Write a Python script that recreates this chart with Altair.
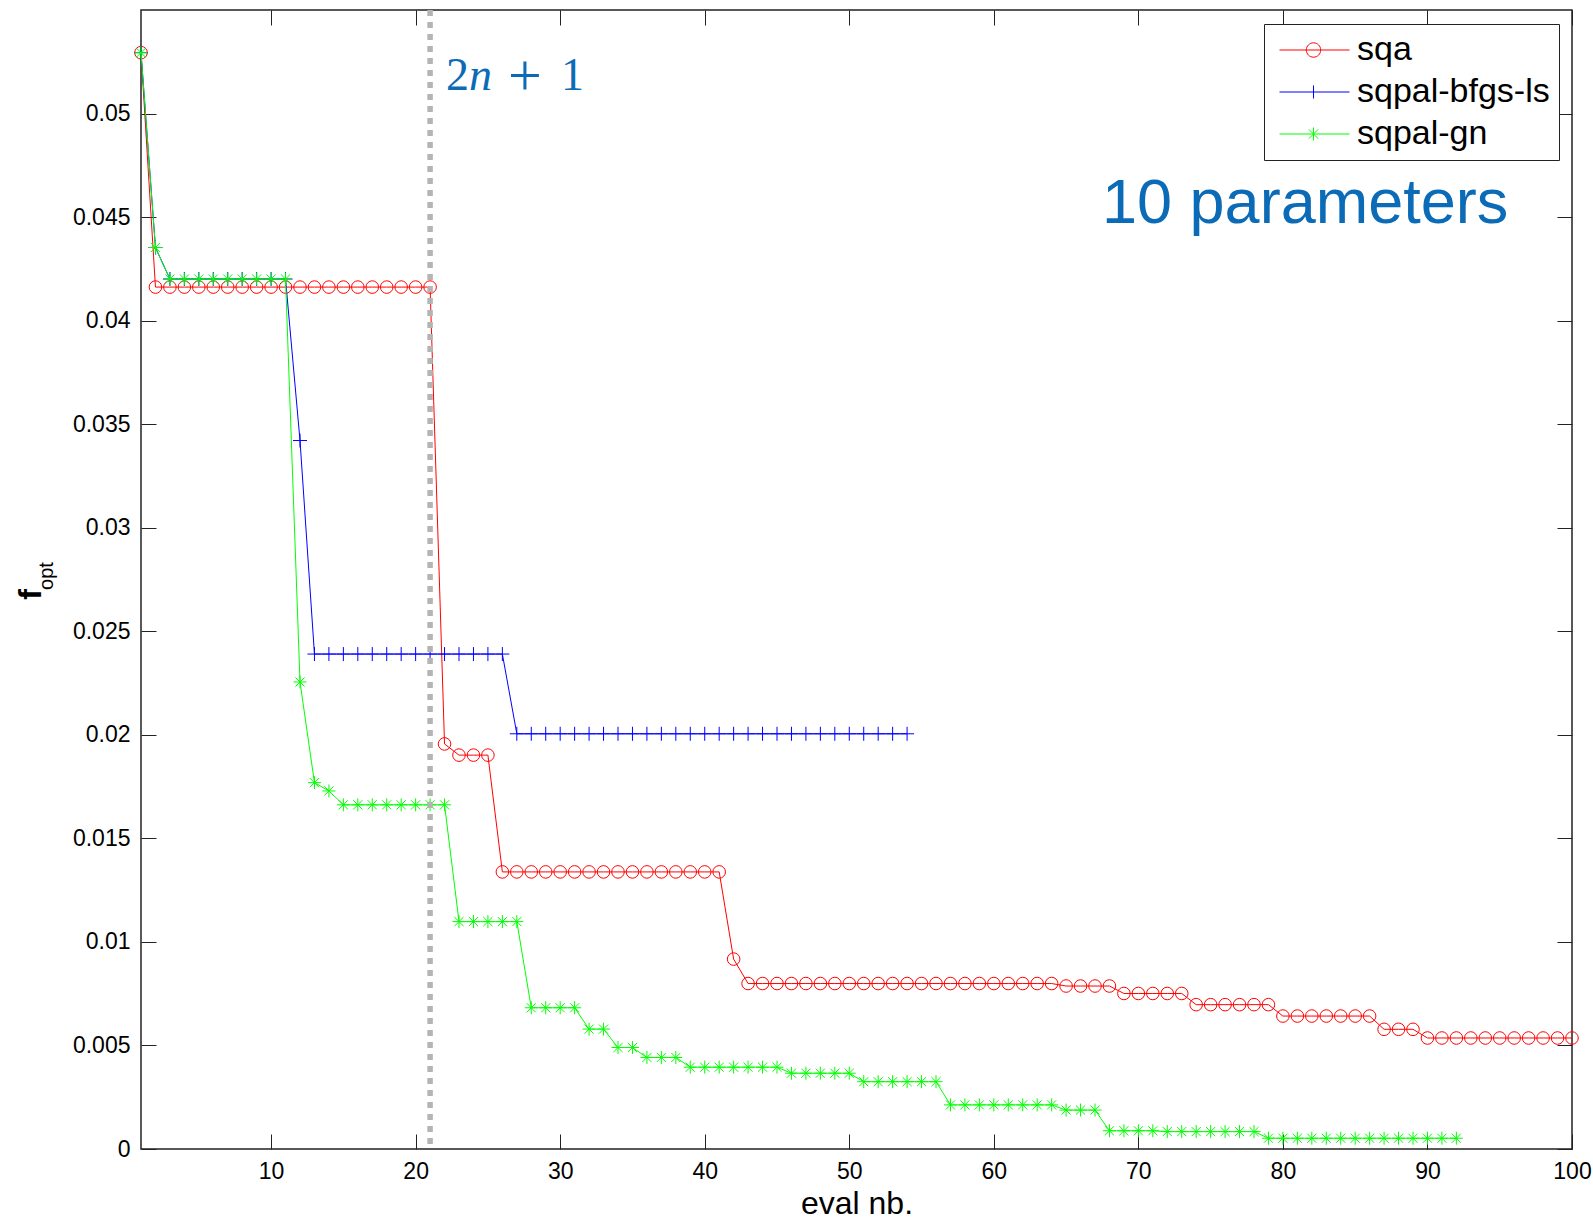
import altair as alt
import pandas as pd

# ---------------- data ----------------
series_names = ["sqa", "sqpal-bfgs-ls", "sqpal-gn"]
series_colors = ["#ff0000", "#0000ff", "#00ff00"]

sqa_eval = list(range(1, 101))
sqa_fopt = [
    0.05294,
    0.04162, 0.04162, 0.04162, 0.04162, 0.04162, 0.04162, 0.04162, 0.04162, 0.04162, 0.04162,
    0.04162, 0.04162, 0.04162, 0.04162, 0.04162, 0.04162, 0.04162, 0.04162, 0.04162, 0.04162,
    0.01956,
    0.01902, 0.01902, 0.01902,
    0.01338, 0.01338, 0.01338, 0.01338, 0.01338, 0.01338, 0.01338, 0.01338,
    0.01338, 0.01338, 0.01338, 0.01338, 0.01338, 0.01338, 0.01338, 0.01338,
    0.00917,
    0.00799, 0.00799, 0.00799, 0.00799, 0.00799, 0.00799, 0.00799, 0.00799, 0.00799, 0.00799, 0.00799,
    0.00799, 0.00799, 0.00799, 0.00799, 0.00799, 0.00799, 0.00799, 0.00799, 0.00799, 0.00799, 0.00799,
    0.00787, 0.00787, 0.00787, 0.00787,
    0.00751, 0.00751, 0.00751, 0.00751, 0.00751,
    0.00697, 0.00697, 0.00697, 0.00697, 0.00697, 0.00697,
    0.00642, 0.00642, 0.00642, 0.00642, 0.00642, 0.00642, 0.00642,
    0.00578, 0.00578, 0.00578,
    0.00536, 0.00536, 0.00536, 0.00536, 0.00536, 0.00536, 0.00536, 0.00536, 0.00536, 0.00536, 0.00536,
]

bfgs_eval = list(range(1, 55))
bfgs_fopt = [
    0.05294,
    0.04353,
    0.04201, 0.04201, 0.04201, 0.04201, 0.04201, 0.04201, 0.04201, 0.04201, 0.04201,
    0.03421,
    0.02390, 0.02390, 0.02390, 0.02390, 0.02390, 0.02390, 0.02390,
    0.02390, 0.02390, 0.02390, 0.02390, 0.02390, 0.02390, 0.02390,
    0.02005, 0.02005, 0.02005, 0.02005, 0.02005, 0.02005, 0.02005, 0.02005, 0.02005, 0.02005,
    0.02005, 0.02005, 0.02005, 0.02005, 0.02005, 0.02005, 0.02005, 0.02005, 0.02005, 0.02005,
    0.02005, 0.02005, 0.02005, 0.02005, 0.02005, 0.02005, 0.02005, 0.02005,
]

gn_eval = list(range(1, 93))
gn_fopt = [
    0.05294,
    0.04353,
    0.04201, 0.04201, 0.04201, 0.04201, 0.04201, 0.04201, 0.04201, 0.04201, 0.04201,
    0.02255,
    0.01769,
    0.01729,
    0.01662, 0.01662, 0.01662, 0.01662, 0.01662, 0.01662, 0.01662, 0.01662,
    0.01098, 0.01098, 0.01098, 0.01098, 0.01098,
    0.00682, 0.00682, 0.00682, 0.00682,
    0.00579, 0.00579,
    0.00490, 0.00490,
    0.00442, 0.00442, 0.00442,
    0.00395, 0.00395, 0.00395, 0.00395, 0.00395, 0.00395, 0.00395,
    0.00366, 0.00366, 0.00366, 0.00366, 0.00366,
    0.00325, 0.00325, 0.00325, 0.00325, 0.00325, 0.00325,
    0.00213, 0.00213, 0.00213, 0.00213, 0.00213, 0.00213, 0.00213, 0.00213,
    0.00188, 0.00188, 0.00188,
    0.00088, 0.00088, 0.00088, 0.00088,
    0.00084, 0.00084, 0.00084, 0.00084, 0.00084, 0.00084, 0.00084,
    0.00052, 0.00052, 0.00052, 0.00052, 0.00052, 0.00052, 0.00052,
    0.00052, 0.00052, 0.00052, 0.00052, 0.00052, 0.00052, 0.00052,
]

x_ticks = [10, 20, 30, 40, 50, 60, 70, 80, 90, 100]
y_ticks = [0, 0.005, 0.01, 0.015, 0.02, 0.025, 0.03, 0.035, 0.04, 0.045, 0.05]
vline_eval = [21]
x_title = "eval nb."
y_title_main = "f"
y_title_sub = "opt"
annotation_text = "10 parameters"

# ---------------- frames ----------------
df_sqa = pd.DataFrame({"eval": sqa_eval, "fopt": sqa_fopt, "series": series_names[0]})
df_bfgs = pd.DataFrame({"eval": bfgs_eval, "fopt": bfgs_fopt, "series": series_names[1]})
df_gn = pd.DataFrame({"eval": gn_eval, "fopt": gn_fopt, "series": series_names[2]})
df_vline = pd.DataFrame({"eval": vline_eval})
df_legend = pd.DataFrame({"series": series_names})
df_annot = pd.DataFrame({"label": [annotation_text]})
df_sub = pd.DataFrame({"label": [y_title_sub]})

FONT = "Liberation Sans"
BLUE_TXT = "#0b6bb6"
FRAME = "#222222"

xs = alt.Scale(domain=[1, 100], nice=False, zero=False)
ys = alt.Scale(domain=[0, 0.055], nice=False, zero=False)

ax_bottom = alt.Axis(orient="bottom", offset=-15, tickSize=15, values=x_ticks, domain=False,
                     grid=False, labelFontSize=23, labelPadding=11, labelFlush=False,
                     labelOverlap=False, format="d",
                     title=x_title, titleFontSize=32, titleFontWeight="normal",
                     titleBaseline="alphabetic", titleY=79)
ax_left = alt.Axis(orient="left", offset=-15, tickSize=15, values=y_ticks, domain=False,
                   grid=False, labelFontSize=23, labelPadding=11, labelFlush=False,
                   labelOverlap=False, format="~g",
                   title=y_title_main, titleFontSize=32, titleFontWeight="bold",
                   titleAngle=270, titleAlign="center", titleBaseline="alphabetic",
                   titleX=-116, titleY=584)
ax_top = alt.Axis(orient="top", offset=-15, tickSize=15, values=x_ticks, domain=False,
                  grid=False, labels=False, title=None)
ax_right = alt.Axis(orient="right", offset=-15, tickSize=15, values=y_ticks, domain=False,
                    grid=False, labels=False, title=None)


def xy(axx=None, axy=None):
    return dict(
        x=alt.X("eval:Q", scale=xs, axis=axx),
        y=alt.Y("fopt:Q", scale=ys, axis=axy),
    )


PLUS = "M-1,0L1,0M0,-1L0,1"
STAR = "M-1,0L1,0M0,-1L0,1M-0.7,-0.7L0.7,0.7M-0.7,0.7L0.7,-0.7"

red_line = alt.Chart(df_sqa).mark_line(color=series_colors[0], strokeWidth=1).encode(
    **xy(ax_bottom, ax_left))
red_pts = alt.Chart(df_sqa).mark_point(shape="circle", size=158, filled=False,
                                       color=series_colors[0], strokeWidth=1,
                                       opacity=1).encode(**xy())
blue_line = alt.Chart(df_bfgs).mark_line(color=series_colors[1], strokeWidth=1).encode(
    **xy(ax_top, ax_right))
blue_pts = alt.Chart(df_bfgs).mark_point(shape=PLUS, size=196, filled=False,
                                         color=series_colors[1], strokeWidth=1,
                                         opacity=1).encode(**xy())
green_line = alt.Chart(df_gn).mark_line(color=series_colors[2], strokeWidth=1).encode(**xy())
green_pts = alt.Chart(df_gn).mark_point(shape=STAR, size=169, filled=False,
                                        color=series_colors[2], strokeWidth=1,
                                        opacity=1).encode(**xy())

vline = alt.Chart(df_vline).mark_rule(color="#b4b4b4", strokeWidth=5.5,
                                      strokeDash=[6, 6]).encode(
    x=alt.X("eval:Q", scale=xs, axis=None))

# "2n + 1" label next to the dotted line
t2 = alt.Chart(df_vline).mark_text(text="2", font="Liberation Serif", fontSize=46,
                                   color=BLUE_TXT, align="left", baseline="alphabetic",
                                   dx=16).encode(x=alt.X("eval:Q", scale=xs, axis=None),
                                                 y=alt.value(80))
tn = alt.Chart(df_vline).mark_text(text="n", font="Liberation Serif", fontSize=46,
                                   fontStyle="italic", color=BLUE_TXT, align="left",
                                   baseline="alphabetic", dx=39).encode(
    x=alt.X("eval:Q", scale=xs, axis=None), y=alt.value(80))
tplus = alt.Chart(df_vline).mark_text(text="+", font="Liberation Serif", fontSize=60,
                                      color=BLUE_TXT, align="left", baseline="alphabetic",
                                      dx=78).encode(x=alt.X("eval:Q", scale=xs, axis=None),
                                                    y=alt.value(85))
t1 = alt.Chart(df_vline).mark_text(text="1", font="Liberation Serif", fontSize=46,
                                   color=BLUE_TXT, align="left", baseline="alphabetic",
                                   dx=131).encode(x=alt.X("eval:Q", scale=xs, axis=None),
                                                  y=alt.value(80))

annot = alt.Chart(df_annot).mark_text(font=FONT, fontSize=63, color=BLUE_TXT, align="left",
                                      baseline="alphabetic").encode(
    x=alt.value(961), y=alt.value(213), text="label:N")

sub = alt.Chart(df_sub).mark_text(font=FONT, fontSize=20, color="black", align="center",
                                  baseline="alphabetic", angle=270).encode(
    x=alt.value(-88), y=alt.value(566), text="label:N")

# legend symbols: line + marker (custom paths)
LEG_SQA = ("M-0.75,0L4.25,0M1.165,0A0.514,0.514 0 1,0 2.193,0"
           "A0.514,0.514 0 1,0 1.165,0")
LEG_BFGS = "M-0.75,0L4.25,0M1.679,-0.464L1.679,0.464"
LEG_GN = ("M-0.75,0L4.25,0M1.679,-0.464L1.679,0.464M1.35,-0.33L2.01,0.33"
          "M1.35,0.33L2.01,-0.33")

leg = alt.Legend(title=None, orient="none", legendX=1123, legendY=14,
                 labelFont=FONT, labelFontSize=34, labelColor="black", labelOffset=50,
                 labelLimit=600, padding=9, rowPadding=8, strokeColor=FRAME,
                 fillColor="white", symbolSize=784, symbolStrokeWidth=1,
                 symbolOpacity=1, symbolFillColor="transparent", cornerRadius=0)

legend_layer = alt.Chart(df_legend).transform_filter("datum.series == 'none'").mark_point(
    filled=False, opacity=1, strokeWidth=1).encode(
    color=alt.Color("series:N", scale=alt.Scale(domain=series_names, range=series_colors),
                    legend=leg),
    shape=alt.Shape("series:N",
                    scale=alt.Scale(domain=series_names, range=[LEG_SQA, LEG_BFGS, LEG_GN]),
                    legend=leg),
)

chart = alt.layer(
    red_line, red_pts, blue_line, blue_pts, green_line, green_pts,
    vline, t2, tn, tplus, t1, annot, sub, legend_layer,
).resolve_axis(x="independent", y="independent").properties(
    width=1431, height=1139,
    padding={"left": 141, "top": 10, "right": 21, "bottom": 74},
    autosize=alt.AutoSizeParams(type="none"),
    background="white",
).configure_view(stroke=FRAME, strokeWidth=1.5).configure_axis(
    labelFont=FONT, titleFont=FONT, labelColor="black", titleColor="black",
    tickColor=FRAME, tickWidth=1,
)

chart.save("out.html", embed_options={"renderer": "svg", "actions": False})
